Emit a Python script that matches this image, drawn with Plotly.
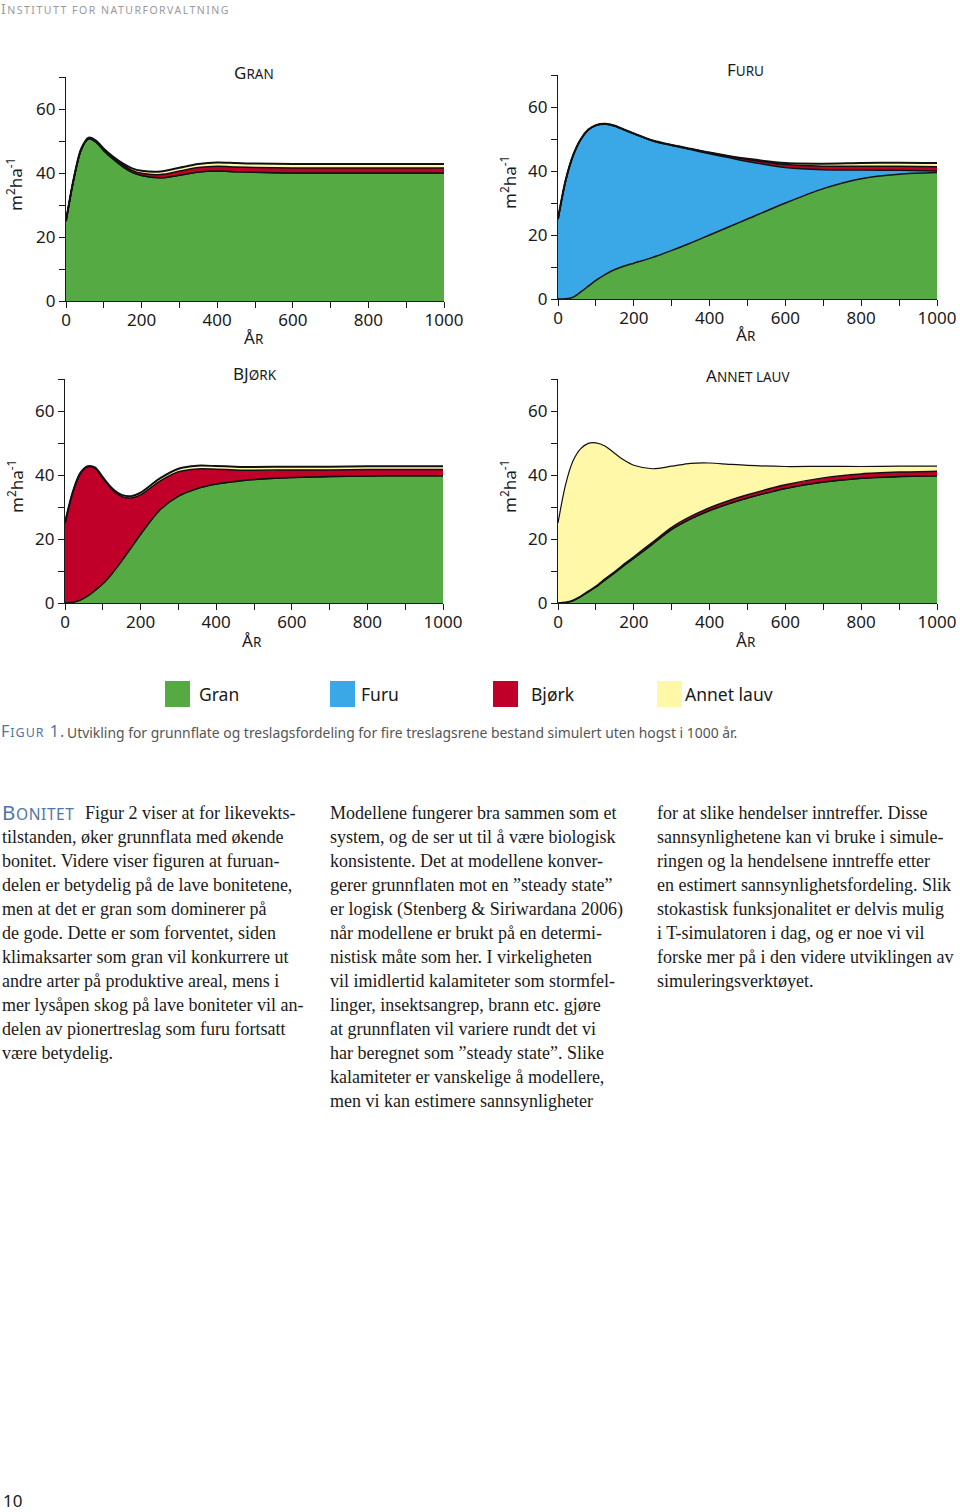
import plotly.graph_objects as go

# ---------------- data ----------------
years = [0, 20, 40, 60, 80, 100, 125, 150, 175, 200, 250, 300, 350, 400, 450, 500, 600, 700, 800, 900, 1000]

species = ["Gran", "Furu", "Bjørk", "Annet lauv"]
colors = ["#55AA44", "#3AA7E6", "#C10029", "#FFF8A8"]

gran_gran = [25, 37.8, 47.2, 50.7, 49.6, 47, 44.3, 42, 40.2, 39.2, 38.5, 39.3, 40.3, 40.6, 40.4, 40.2, 40, 40, 40, 40, 40]
gran_furu = [0] * 21
gran_bjork = [0, 0.1, 0.15, 0.2, 0.25, 0.3, 0.4, 0.5, 0.6, 0.7, 1.0, 1.3, 1.4, 1.5, 1.5, 1.55, 1.6, 1.6, 1.6, 1.6, 1.6]
gran_annet = [0, 0.1, 0.15, 0.15, 0.2, 0.25, 0.35, 0.5, 0.65, 0.8, 0.95, 1.05, 1.1, 1.2, 1.2, 1.2, 1.2, 1.2, 1.2, 1.2, 1.2]

furu_gran = [0, 0.05, 0.6, 2.2, 4.0, 5.8, 7.7, 9.2, 10.3, 11.2, 13, 15.2, 17.5, 20, 22.5, 25, 30, 34.5, 37.6, 39, 39.5]
furu_furu = [25, 36.8, 44.2, 47.6, 48.8, 48.4, 46.9, 44.8, 42.5, 40.4, 36.4, 32.8, 29.2, 25.4, 21.7, 18, 11.1, 5.9, 2.7, 1.2, 0.5]
furu_bjork = [0, 0.1, 0.1, 0.1, 0.1, 0.1, 0.1, 0.1, 0.1, 0.1, 0.1, 0.1, 0.2, 0.3, 0.4, 0.6, 0.9, 1.1, 1.2, 1.3, 1.3]
furu_annet = [0, 0.05, 0.05, 0.05, 0.05, 0.05, 0.05, 0.05, 0.05, 0.05, 0.05, 0.05, 0.05, 0.05, 0.1, 0.2, 0.5, 0.8, 1.0, 1.1, 1.2]

bjork_gran = [0, 0.2, 0.9, 2.2, 4.0, 6.0, 9.3, 13.2, 17.3, 21.5, 29, 33.4, 35.8, 37.2, 38, 38.6, 39.2, 39.5, 39.7, 39.8, 39.8]
bjork_furu = [0] * 21
bjork_bjork = [25, 34.2, 39.5, 40.4, 38.1, 33.0, 26.1, 20.1, 15.5, 12.3, 9.0, 7.6, 6.1, 4.6, 3.6, 2.9, 2.4, 2.1, 2.0, 1.9, 1.9]
bjork_annet = [0, 0.05, 0.1, 0.15, 0.2, 0.3, 0.4, 0.5, 0.6, 0.7, 0.85, 0.95, 1.0, 1.0, 1.0, 1.0, 1.0, 1.0, 1.0, 1.0, 1.0]

annet_gran = [0, 0.15, 0.8, 2.0, 3.5, 5.0, 7.3, 9.5, 11.8, 14, 18.5, 23, 26.3, 28.9, 31, 32.8, 35.8, 37.8, 39, 39.5, 39.8]
annet_furu = [0] * 21
annet_bjork = [0, 0.05, 0.1, 0.15, 0.2, 0.25, 0.3, 0.35, 0.4, 0.45, 0.55, 0.65, 0.75, 0.85, 0.95, 1.0, 1.15, 1.3, 1.35, 1.4, 1.4]
annet_annet = [25, 36.8, 43.6, 46.1, 46.2, 44.8, 41.4, 36.9, 32.4, 28.6, 22.9, 19.1, 16.6, 14.0, 11.4, 9.2, 5.7, 3.6, 2.3, 1.9, 1.6]

panel_titles = ["G<span style='font-size:13.5px'>RAN</span>",
                "F<span style='font-size:13.5px'>URU</span>",
                "BJ<span style='font-size:13.5px'>ØRK</span>",
                "A<span style='font-size:13.5px'>NNET LAUV</span>"]
panels = [
    [gran_gran, gran_furu, gran_bjork, gran_annet],
    [furu_gran, furu_furu, furu_bjork, furu_annet],
    [bjork_gran, bjork_furu, bjork_bjork, bjork_annet],
    [annet_gran, annet_furu, annet_bjork, annet_annet],
]
x_ticks = [0, 200, 400, 600, 800, 1000]
y_ticks = [0, 20, 40, 60]

W, H = 960, 1512
def px(x):
    return x / W
def py(y):
    return 1 - y / H

boxes = [(66, 444, 301, 77), (558, 937, 299, 75), (65, 443, 603, 379), (558, 937, 603, 379)]
title_pos = [(254, 73), (745, 70), (255, 374), (748, 375)]
xlab_pos = [(254, 338), (746, 335), (252, 640), (746, 640)]
ylab_pos = [(15, 185), (508, 183), (15, 487), (508, 487)]

fig = go.Figure()
SANS = "Noto Sans"
SERIF = "Liberation Serif"
INK = "#1a1a1a"

for i, layers in enumerate(panels):
    ax = "" if i == 0 else str(i + 1)
    for j, vals in enumerate(layers):
        lw = 1.5
        if j == 3:
            lw = 1.2 if i == 3 else 2.0
        fig.add_trace(go.Scatter(
            x=years, y=vals, mode="lines", stackgroup=f"p{i}",
            fillcolor=colors[j], line=dict(color="#111111", width=lw, shape="spline", smoothing=0.8),
            name=species[j], showlegend=False, hoverinfo="skip",
            xaxis="x" + ax, yaxis="y" + ax,
        ))
    x0, x1, yb, yt = boxes[i]
    axis_common = dict(showline=True, linecolor=INK, linewidth=1.3, ticks="outside", ticklen=6,
                       tickwidth=1.2, tickcolor=INK, showgrid=False, zeroline=False, automargin=False,
                       tickfont=dict(family=SANS, size=17, color=INK), fixedrange=True)
    fig.update_layout(**{
        "xaxis" + ax: dict(domain=[px(x0), px(x1)], range=[0, 1000], tickvals=x_ticks, ticklabelstandoff=-3,
                           minor=dict(ticks="outside", dtick=100, tick0=0, ticklen=6, tickcolor=INK, tickwidth=1.2),
                           anchor="y" + ax, **axis_common),
        "yaxis" + ax: dict(domain=[py(yb), py(yt)], range=[0, 70], tickvals=y_ticks,
                           minor=dict(ticks="outside", dtick=10, tick0=0, ticklen=6, tickcolor=INK, tickwidth=1.2),
                           anchor="x" + ax, **axis_common),
    })

annotations = []
def txt(x, y, text, size, color=INK, family=SANS, xanchor="left", yanchor="middle", angle=0):
    annotations.append(dict(x=px(x), y=py(y), xref="paper", yref="paper", text=text, showarrow=False,
                            xanchor=xanchor, yanchor=yanchor, textangle=angle, borderpad=0,
                            font=dict(size=size, color=color, family=family)))

for i in range(4):
    txt(title_pos[i][0], title_pos[i][1], panel_titles[i], 17, xanchor="center")
    txt(xlab_pos[i][0], xlab_pos[i][1], "Å<span style='font-size:13.5px'>R</span>", 17, xanchor="center")
    txt(ylab_pos[i][0], ylab_pos[i][1], "m<sup>2</sup>ha<sup>-1</sup>", 17, xanchor="center", angle=-90)

txt(0, 9, "<span style='letter-spacing:1.5px'>I<span style='font-size:10.5px'>NSTITUTT FOR NATURFORVALTNING</span></span>",
    14, color="#9a9a9a")

legend_x = [165, 330, 493, 657]
label_x = [198, 360, 530, 684]
shapes = []
for k in range(4):
    shapes.append(dict(type="rect", xref="paper", yref="paper", x0=px(legend_x[k]), x1=px(legend_x[k] + 25),
                       y0=py(707), y1=py(681), fillcolor=colors[k], line=dict(width=0)))
    txt(label_x[k], 694, species[k], 17.5)

BLUE = "#4E76A6"
txt(0, 731, "<span style='letter-spacing:1px'>F<span style='font-size:12.5px'>IGUR</span> 1.</span>", 16, color=BLUE)
txt(66, 732, "Utvikling for grunnflate og treslagsfordeling for fire treslagsrene bestand simulert uten hogst i 1000 år.",
    13.9, color="#555555")

col1 = ["tilstanden, øker grunnflata med økende",
        "bonitet. Videre viser figuren at furuan-",
        "delen er betydelig på de lave bonitetene,",
        "men at det er gran som dominerer på",
        "de gode. Dette er som forventet, siden",
        "klimaksarter som gran vil konkurrere ut",
        "andre arter på produktive areal, mens i",
        "mer lysåpen skog på lave boniteter vil an-",
        "delen av pionertreslag som furu fortsatt",
        "være betydelig."]
col2 = ["Modellene fungerer bra sammen som et",
        "system, og de ser ut til å være biologisk",
        "konsistente. Det at modellene konver-",
        "gerer grunnflaten mot en ”steady state”",
        "er logisk (Stenberg &amp; Siriwardana 2006)",
        "når modellene er brukt på en determi-",
        "nistisk måte som her. I virkeligheten",
        "vil imidlertid kalamiteter som stormfel-",
        "linger, insektsangrep, brann etc. gjøre",
        "at grunnflaten vil variere rundt det vi",
        "har beregnet som ”steady state”. Slike",
        "kalamiteter er vanskelige å modellere,",
        "men vi kan estimere sannsynligheter"]
col3 = ["for at slike hendelser inntreffer. Disse",
        "sannsynlighetene kan vi bruke i simule-",
        "ringen og la hendelsene inntreffe etter",
        "en estimert sannsynlighetsfordeling. Slik",
        "stokastisk funksjonalitet er delvis mulig",
        "i T-simulatoren i dag, og er noe vi vil",
        "forske mer på i den videre utviklingen av",
        "simuleringsverktøyet."]

BODY = 18
txt(1, 812, "<span style='letter-spacing:0.6px'>B<span style='font-size:15.5px'>ONITET</span></span>", 20.5, color=BLUE)
txt(84, 813, "Figur 2 viser at for likevekts-", BODY, family=SERIF)
for n, line in enumerate(col1):
    txt(1, 837 + 24 * n, line, BODY, family=SERIF)
for n, line in enumerate(col2):
    txt(329, 813 + 24 * n, line, BODY, family=SERIF)
for n, line in enumerate(col3):
    txt(656, 813 + 24 * n, line, BODY, family=SERIF)

txt(2, 1500, "10", 17)

fig.update_layout(width=W, height=H, margin=dict(l=0, r=0, t=0, b=0, pad=0, autoexpand=False),
                  paper_bgcolor="white", plot_bgcolor="white",
                  annotations=annotations, shapes=shapes, showlegend=False)

post = ("document.documentElement.style.margin='0';document.body.style.margin='0';"
        "document.body.style.padding='0';document.body.style.overflow='hidden';")
fig.write_html("out.html", post_script=post, config={"displayModeBar": False})
